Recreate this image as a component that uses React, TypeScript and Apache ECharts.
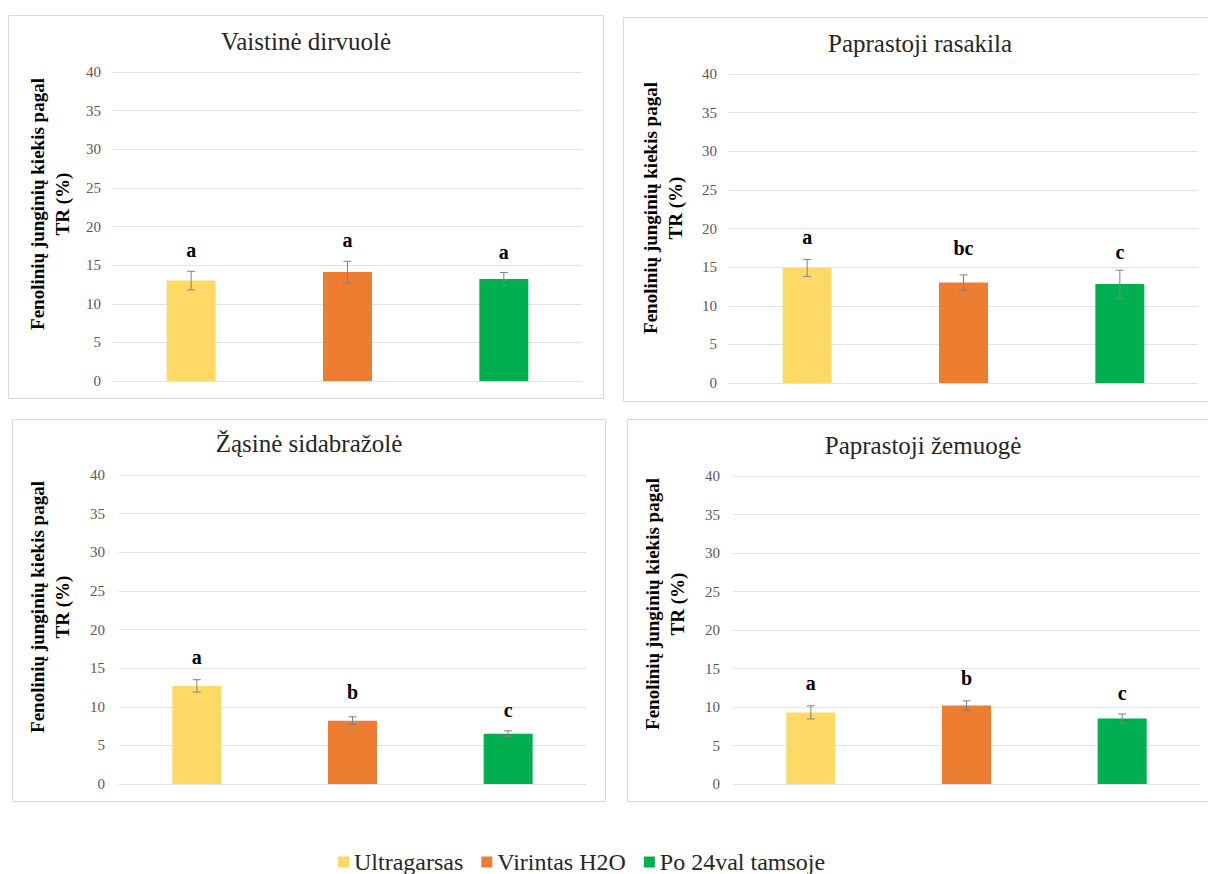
import React, { useEffect, useRef } from "react";
import * as echarts from "echarts";

// ---- data ----
const categories = ["Ultragarsas", "Virintas H2O", "Po 24val tamsoje"];
const panelTitles = ["Vaistinė dirvuolė", "Paprastoji rasakila", "Žąsinė sidabražolė", "Paprastoji žemuogė"];
const yAxisTitle = "Fenolinių junginių kiekis pagal\nTR (%)";
const yMin = 0;
const yMax = 40;
const yInterval = 5;

const meansVaistine = [13.0, 14.1, 13.2];
const errVaistine = [1.2, 1.4, 0.85];
const lettersVaistine = ["a", "a", "a"];
const letterAtVaistine = [17.0, 18.2, 16.7];

const meansRasakila = [14.9, 13.0, 12.8];
const errRasakila = [1.1, 1.0, 1.8];
const lettersRasakila = ["a", "bc", "c"];
const letterAtRasakila = [18.9, 17.5, 17.0];

const meansSidabrazole = [12.7, 8.2, 6.5];
const errSidabrazole = [0.8, 0.5, 0.38];
const lettersSidabrazole = ["a", "b", "c"];
const letterAtSidabrazole = [16.5, 11.9, 9.6];

const meansZemuoge = [9.3, 10.2, 8.5];
const errZemuoge = [0.85, 0.6, 0.6];
const lettersZemuoge = ["a", "b", "c"];
const letterAtZemuoge = [13.1, 13.8, 11.8];

const panelMeans = [meansVaistine, meansRasakila, meansSidabrazole, meansZemuoge];
const panelErr = [errVaistine, errRasakila, errSidabrazole, errZemuoge];
const panelLetters = [lettersVaistine, lettersRasakila, lettersSidabrazole, lettersZemuoge];
const panelLetterAt = [letterAtVaistine, letterAtRasakila, letterAtSidabrazole, letterAtZemuoge];

// ---- styles / layout ----
const colors = ["#FFD966", "#ED7D31", "#00B050"];
const SERIF = "'Liberation Serif', 'Times New Roman', serif";
const grids = [
  { left: 113, top: 72, width: 469, height: 309 },
  { left: 729, top: 74, width: 469, height: 309 },
  { left: 119, top: 475, width: 467, height: 309 },
  { left: 733, top: 476, width: 467, height: 308 },
];
const frames = [
  { x: 8.5, y: 15.5, w: 595, h: 383 },
  { x: 623.5, y: 17.5, w: 600, h: 384 },
  { x: 12.5, y: 419.5, w: 593, h: 382 },
  { x: 627.5, y: 419.5, w: 600, h: 382 },
];
const titlePos = [
  { x: 306, y: 41 },
  { x: 920, y: 43 },
  { x: 309, y: 443 },
  { x: 923, y: 445 },
];
const yNamePos = [
  { x: 49.5, y: 204 },
  { x: 662.5, y: 208 },
  { x: 49.5, y: 607 },
  { x: 664.5, y: 604 },
];
const labelMargins = [12, 12, 14, 13];

export default function App() {
  const ref = useRef<HTMLDivElement>(null);

  useEffect(() => {
    if (!ref.current) return;
    const chart = echarts.init(ref.current, undefined, { renderer: "svg" });

    const xAxes: any[] = [];
    const yAxes: any[] = [];
    const series: any[] = [];
    const graphic: any[] = [];

    panelTitles.forEach((title, i) => {
      xAxes.push({
        type: "category",
        gridIndex: i,
        data: categories,
        axisLine: { show: false },
        axisTick: { show: false },
        axisLabel: { show: false },
        splitLine: { show: false },
      });
      yAxes.push({
        type: "value",
        gridIndex: i,
        min: yMin,
        max: yMax,
        interval: yInterval,
        axisLine: { show: false },
        axisTick: { show: false },
        axisLabel: {
          color: "#595959",
          fontSize: 15,
          fontFamily: SERIF,
          margin: labelMargins[i],
        },
        splitLine: { lineStyle: { color: "#e2e2e2", width: 1 } },
      });

      categories.forEach((cat, j) => {
        series.push({
          type: "bar",
          name: cat,
          xAxisIndex: i,
          yAxisIndex: i,
          stack: "panel" + i,
          barWidth: 49,
          itemStyle: { color: colors[j] },
          data: categories.map((_, k) => (k === j ? panelMeans[i][j] : "-")),
        });
      });

      const letters = panelLetters[i];
      series.push({
        type: "custom",
        xAxisIndex: i,
        yAxisIndex: i,
        z: 10,
        encode: { x: 0, y: [1, 2] },
        data: panelMeans[i].map((m, j) => [j, m - panelErr[i][j], m + panelErr[i][j], panelLetterAt[i][j]]),
        renderItem: (params: any, api: any) => {
          const xv = api.value(0);
          const lo = api.coord([xv, api.value(1)]);
          const hi = api.coord([xv, api.value(2)]);
          const lp = api.coord([xv, api.value(3)]);
          const cap = 4;
          const ls = { stroke: "#808080", lineWidth: 1 };
          return {
            type: "group",
            children: [
              { type: "line", shape: { x1: hi[0], y1: hi[1], x2: lo[0], y2: lo[1] }, style: ls },
              { type: "line", shape: { x1: hi[0] - cap, y1: hi[1], x2: hi[0] + cap, y2: hi[1] }, style: ls },
              { type: "line", shape: { x1: lo[0] - cap, y1: lo[1], x2: lo[0] + cap, y2: lo[1] }, style: ls },
              {
                type: "text",
                x: lp[0],
                y: lp[1],
                style: {
                  text: letters[params.dataIndex],
                  align: "center",
                  verticalAlign: "middle",
                  font: "bold 20px " + SERIF,
                  fill: "#000000",
                },
              },
            ],
          };
        },
      });

      const f = frames[i];
      graphic.push({
        type: "rect",
        shape: { x: f.x, y: f.y, width: f.w, height: f.h },
        style: { fill: "none", stroke: "#d9d9d9", lineWidth: 1 },
        z: -1,
      });
      const t = titlePos[i];
      graphic.push({
        type: "text",
        x: t.x,
        y: t.y,
        style: {
          text: title,
          align: "center",
          verticalAlign: "middle",
          font: "25px " + SERIF,
          fill: "#262626",
        },
      });
      const n = yNamePos[i];
      graphic.push({
        type: "text",
        x: n.x,
        y: n.y,
        rotation: Math.PI / 2,
        style: {
          text: yAxisTitle,
          align: "center",
          verticalAlign: "middle",
          font: "bold 19px " + SERIF,
          lineHeight: 25,
          fill: "#000000",
        },
      });
    });

    chart.setOption({
      animation: false,
      backgroundColor: "#ffffff",
      grid: grids.map((g) => ({ ...g, containLabel: false })),
      xAxis: xAxes,
      yAxis: yAxes,
      legend: {
        data: categories,
        left: 338,
        top: 850,
        padding: 0,
        icon: "rect",
        itemWidth: 11,
        itemHeight: 11,
        itemGap: 18,
        textStyle: { fontSize: 24, fontFamily: SERIF, color: "#262626" },
        selectedMode: false,
      },
      series,
      graphic,
    });

    return () => chart.dispose();
  }, []);

  return (
    <div
      ref={ref}
      style={{ position: "absolute", left: 0, top: 0, width: 1208, height: 874, background: "#fff" }}
    />
  );
}
